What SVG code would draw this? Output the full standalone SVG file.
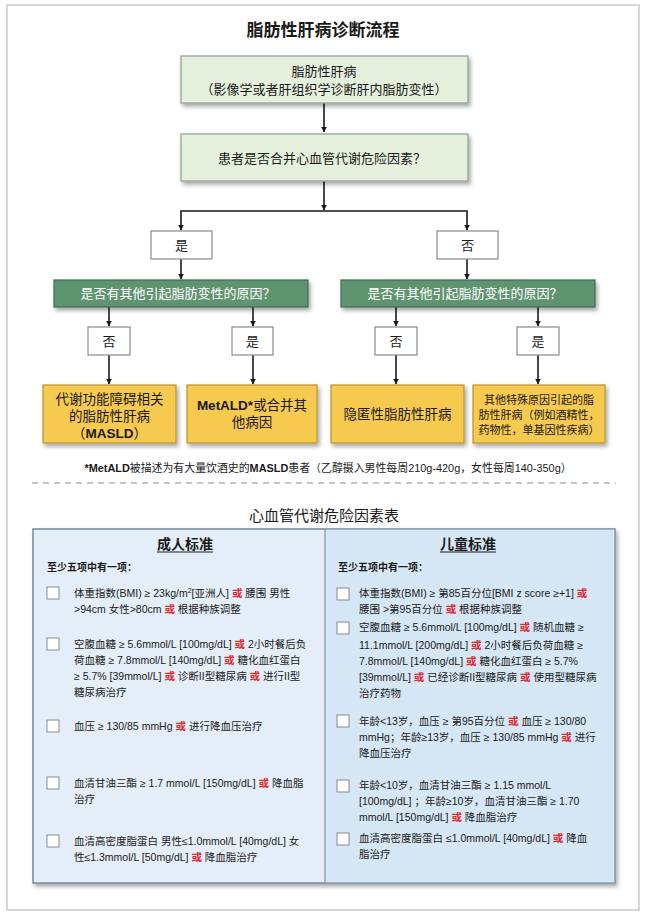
<svg xmlns="http://www.w3.org/2000/svg" width="646" height="916" viewBox="0 0 646 916">
<defs>
<filter id="sh" x="-10%" y="-20%" width="130%" height="160%">
<feDropShadow dx="2" dy="3" stdDeviation="2.2" flood-color="#000" flood-opacity="0.35"/>
</filter>
<marker id="ar" viewBox="0 0 10 10" refX="9" refY="5" markerWidth="6" markerHeight="6" orient="auto" markerUnits="userSpaceOnUse">
<path d="M0,0 L10,5 L0,10 z" fill="#1a1a1a"/>
</marker>
<style>
text{font-family:"Liberation Sans","Noto Sans CJK SC",sans-serif;fill:#1a1a1a}
.t{font-size:13px;text-anchor:middle}
.y{font-size:13.5px;text-anchor:middle}
.ys{font-size:11px;text-anchor:middle}
.lg{fill:#e4efdc;stroke:#8f9d8f;stroke-width:1.2}
.gr{fill:#5f9471;stroke:#3d6b4c;stroke-width:1.2}
.wb{fill:#fff;stroke:#8a8a8a;stroke-width:1.2}
.yl{fill:#f6c94f;stroke:#b99433;stroke-width:1.2}
.wt{fill:#fff}
.c{fill:none;stroke:#1a1a1a;stroke-width:1.6}
.it{font-size:10.5px}
.r{fill:#e0282e;font-weight:bold}
.cb{fill:#fff;stroke:#8a8a8a;stroke-width:1}
.hd{font-size:14px;font-weight:bold;text-anchor:middle}
.sub{font-size:10px;font-weight:bold}
</style>
</defs>
<rect x="7" y="5" width="632" height="905" fill="#fff" stroke="#bdbdbd" stroke-width="1.2"/>
<text x="323" y="36" font-size="17" font-weight="bold" text-anchor="middle">脂肪性肝病诊断流程</text>

<g id="connectors">
<path class="c" d="M324,103 V132" marker-end="url(#ar)"/>
<path class="c" d="M324,181 V210" marker-end="url(#ar)"/>
<path class="c" d="M324,211 H181 V230" marker-end="url(#ar)"/>
<path class="c" d="M324,211 H467 V230" marker-end="url(#ar)"/>
<path class="c" d="M181,259 V279" marker-end="url(#ar)"/>
<path class="c" d="M467,259 V279" marker-end="url(#ar)"/>
<path class="c" d="M109,307 V326" marker-end="url(#ar)"/>
<path class="c" d="M253,307 V326" marker-end="url(#ar)"/>
<path class="c" d="M396,307 V326" marker-end="url(#ar)"/>
<path class="c" d="M538,307 V326" marker-end="url(#ar)"/>
<path class="c" d="M109,355 V384" marker-end="url(#ar)"/>
<path class="c" d="M253,355 V384" marker-end="url(#ar)"/>
<path class="c" d="M396,355 V384" marker-end="url(#ar)"/>
<path class="c" d="M538,355 V384" marker-end="url(#ar)"/>
</g>

<g id="n_fld">
<rect class="lg" x="181" y="56" width="287" height="47" filter="url(#sh)"/>
<text class="t" x="324" y="76">脂肪性肝病</text>
<text class="t" x="324" y="94">（影像学或者肝组织学诊断肝内脂肪变性）</text>
</g>
<g id="n_q1">
<rect class="lg" x="181" y="134" width="287" height="47" filter="url(#sh)"/>
<text class="t" x="322" y="163">患者是否合并心血管代谢危险因素？</text>
</g>
<g id="n_yes1">
<rect class="wb" x="151" y="231" width="61" height="28"/>
<text class="t" x="181.5" y="250">是</text>
</g>
<g id="n_no1">
<rect class="wb" x="437" y="231" width="61" height="28"/>
<text class="t" x="467.5" y="250">否</text>
</g>
<g id="n_q2l">
<rect class="gr" x="54" y="280" width="254" height="27" filter="url(#sh)"/>
<text class="t wt" x="178" y="298">是否有其他引起脂肪变性的原因？</text>
</g>
<g id="n_q2r">
<rect class="gr" x="341" y="280" width="254" height="27" filter="url(#sh)"/>
<text class="t wt" x="465" y="298">是否有其他引起脂肪变性的原因？</text>
</g>
<g id="n_no2l">
<rect class="wb" x="88" y="327" width="42" height="28"/>
<text class="t" x="109" y="346">否</text>
</g>
<g id="n_yes2l">
<rect class="wb" x="232" y="327" width="41" height="28"/>
<text class="t" x="252.5" y="346">是</text>
</g>
<g id="n_no2r">
<rect class="wb" x="375" y="327" width="42" height="28"/>
<text class="t" x="396" y="346">否</text>
</g>
<g id="n_yes2r">
<rect class="wb" x="517" y="327" width="42" height="28"/>
<text class="t" x="538" y="346">是</text>
</g>
<g id="n_masld">
<rect class="yl" x="43" y="385" width="133" height="58" filter="url(#sh)"/>
<text class="y" x="109.5" y="404">代谢功能障碍相关</text>
<text class="y" x="109.5" y="421">的脂肪性肝病</text>
<text class="y" x="109.5" y="438">（<tspan font-weight="bold">MASLD</tspan>）</text>
</g>
<g id="n_metald">
<rect class="yl" x="187" y="385" width="130" height="58" filter="url(#sh)"/>
<text class="y" x="252" y="410"><tspan font-weight="bold">MetALD*</tspan>或合并其</text>
<text class="y" x="252" y="427">他病因</text>
</g>
<g id="n_crypto">
<rect class="yl" x="331" y="385" width="133" height="58" filter="url(#sh)"/>
<text class="y" x="397.5" y="419">隐匿性脂肪性肝病</text>
</g>
<g id="n_other">
<rect class="yl" x="473" y="385" width="132" height="58" filter="url(#sh)"/>
<text class="ys" x="539" y="404">其他特殊原因引起的脂</text>
<text class="ys" x="539" y="419">肪性肝病（例如酒精性，</text>
<text class="ys" x="539" y="434">药物性，单基因性疾病）</text>
</g>

<text x="328" y="472" font-size="10.9" text-anchor="middle"><tspan font-weight="bold">*MetALD</tspan>被描述为有大量饮酒史的<tspan font-weight="bold">MASLD</tspan>患者（乙醇摄入男性每周210g-420g，女性每周140-350g）</text>
<line x1="32" y1="483" x2="616" y2="483" stroke="#8a8a8a" stroke-width="1" stroke-dasharray="6,5"/>

<text x="324" y="521" font-size="15" text-anchor="middle">心血管代谢危险因素表</text>

<g id="table">
<rect x="33" y="529" width="582" height="354" fill="#e4eef8" stroke="#7f93a6" stroke-width="1.2" filter="url(#sh)"/>
<rect x="325" y="529" width="290" height="354" fill="#d5e6f5"/>
<rect x="33" y="529" width="582" height="354" fill="none" stroke="#7f93a6" stroke-width="1.2"/>
<line x1="325" y1="529" x2="325" y2="883" stroke="#7f93a6" stroke-width="1.2"/>

<text class="hd" x="185" y="549">成人标准</text>
<line x1="157" y1="552" x2="213" y2="552" stroke="#1a1a1a" stroke-width="1"/>
<text class="hd" x="468" y="549">儿童标准</text>
<line x1="440" y1="552" x2="496" y2="552" stroke="#1a1a1a" stroke-width="1"/>
<text class="sub" x="47" y="571">至少五项中有一项：</text>
<text class="sub" x="338" y="571">至少五项中有一项：</text>

<rect class="cb" x="47" y="587" width="12" height="12"/>
<text class="it" x="74" y="597">体重指数(BMI) ≥ 23kg/m<tspan font-size="7" dy="-4">2</tspan><tspan dy="4">[亚洲人] </tspan><tspan class="r">或</tspan> 腰围 男性</text>
<text class="it" x="74" y="613">&gt;94cm 女性&gt;80cm <tspan class="r">或</tspan> 根据种族调整</text>

<rect class="cb" x="47" y="638" width="12" height="12"/>
<text class="it" x="74" y="648">空腹血糖 ≥ 5.6mmol/L [100mg/dL] <tspan class="r">或</tspan> 2小时餐后负</text>
<text class="it" x="74" y="664">荷血糖 ≥ 7.8mmol/L [140mg/dL]  <tspan class="r">或</tspan> 糖化血红蛋白</text>
<text class="it" x="74" y="680">≥ 5.7% [39mmol/L] <tspan class="r">或</tspan> 诊断II型糖尿病 <tspan class="r">或</tspan> 进行II型</text>
<text class="it" x="74" y="696">糖尿病治疗</text>

<rect class="cb" x="47" y="720" width="12" height="12"/>
<text class="it" x="74" y="730">血压 ≥ 130/85 mmHg <tspan class="r">或</tspan> 进行降血压治疗</text>

<rect class="cb" x="47" y="777" width="12" height="12"/>
<text class="it" x="74" y="787">血清甘油三酯 ≥ 1.7 mmol/L [150mg/dL] <tspan class="r">或</tspan> 降血脂</text>
<text class="it" x="74" y="803">治疗</text>

<rect class="cb" x="47" y="835" width="12" height="12"/>
<text class="it" x="74" y="845">血清高密度脂蛋白  男性≤1.0mmol/L [40mg/dL] 女</text>
<text class="it" x="74" y="861">性≤1.3mmol/L [50mg/dL] <tspan class="r">或</tspan> 降血脂治疗</text>

<rect class="cb" x="337" y="588" width="12" height="12"/>
<text class="it" x="359" y="597">体重指数(BMI) ≥ 第85百分位[BMI z score ≥+1] <tspan class="r">或</tspan></text>
<text class="it" x="359" y="613">腰围 &gt;第95百分位 <tspan class="r">或</tspan> 根据种族调整</text>

<rect class="cb" x="337" y="622" width="12" height="12"/>
<text class="it" x="359" y="631">空腹血糖 ≥ 5.6mmol/L [100mg/dL] <tspan class="r">或</tspan> 随机血糖 ≥</text>
<text class="it" x="359" y="649">11.1mmol/L [200mg/dL] <tspan class="r">或</tspan> 2小时餐后负荷血糖 ≥</text>
<text class="it" x="359" y="665">7.8mmol/L [140mg/dL]  <tspan class="r">或</tspan> 糖化血红蛋白 ≥ 5.7%</text>
<text class="it" x="359" y="681">[39mmol/L] <tspan class="r">或</tspan> 已经诊断II型糖尿病 <tspan class="r">或</tspan> 使用型糖尿病</text>
<text class="it" x="359" y="697">治疗药物</text>

<rect class="cb" x="337" y="715" width="12" height="12"/>
<text class="it" x="359" y="725">年龄&lt;13岁，血压 ≥ 第95百分位 <tspan class="r">或</tspan> 血压 ≥ 130/80</text>
<text class="it" x="359" y="741">mmHg；年龄≥13岁，血压 ≥ 130/85 mmHg <tspan class="r">或</tspan> 进行</text>
<text class="it" x="359" y="757">降血压治疗</text>

<rect class="cb" x="337" y="780" width="12" height="12"/>
<text class="it" x="359" y="789">年龄&lt;10岁，血清甘油三酯 ≥ 1.15 mmol/L</text>
<text class="it" x="359" y="805">[100mg/dL] ；年龄≥10岁，血清甘油三酯 ≥ 1.70</text>
<text class="it" x="359" y="821">mmol/L [150mg/dL] <tspan class="r">或</tspan> 降血脂治疗</text>

<rect class="cb" x="337" y="833" width="12" height="12"/>
<text class="it" x="359" y="842">血清高密度脂蛋白 ≤1.0mmol/L [40mg/dL] <tspan class="r">或</tspan> 降血</text>
<text class="it" x="359" y="858">脂治疗</text>
</g>
</svg>
